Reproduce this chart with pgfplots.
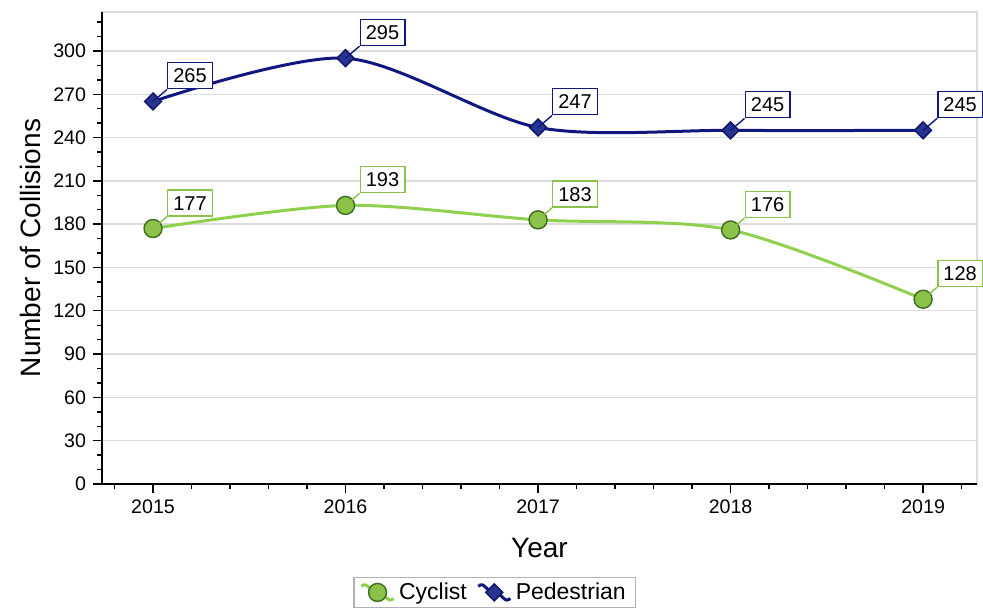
\documentclass[border=0pt]{standalone}
\usepackage{fontspec}
\setmainfont{Liberation Sans}
\usepackage{pgfplots}
\pgfplotsset{compat=1.18}

\definecolor{pedline}{HTML}{101880}
\definecolor{pedfill}{HTML}{26338F}
\definecolor{pededge}{HTML}{0D1466}
\definecolor{cycline}{HTML}{8FD14F}
\definecolor{cycfill}{HTML}{8BC34A}
\definecolor{cycedge}{HTML}{3D6B1E}
\definecolor{gridgray}{HTML}{DDDDDD}

% filled diamond with equal width and height
\pgfdeclareplotmark{bigdiamond}{%
  \pgfpathmoveto{\pgfqpoint{0pt}{\pgfplotmarksize}}%
  \pgfpathlineto{\pgfqpoint{\pgfplotmarksize}{0pt}}%
  \pgfpathlineto{\pgfqpoint{0pt}{-\pgfplotmarksize}}%
  \pgfpathlineto{\pgfqpoint{-\pgfplotmarksize}{0pt}}%
  \pgfpathclose
  \pgfusepathqfillstroke}

% boxed value label, up and right of the point, with a small leader line
\pgfplotsset{
  datalabel/.style={
    nodes near coords,
    point meta=y,
    every node near coord/.append style={
      anchor=south west, xshift=7pt, yshift=6pt,
      draw=#1, line width=0.7pt, fill=white, text=black,
      font=\fontsize{10}{12}\selectfont,
      inner xsep=2.8pt, inner ysep=2.9pt, text height=7.2pt, text depth=0pt,
      append after command={(\tikzlastnode.south west) edge[draw=#1, line width=0.7pt] ++(-7pt,-6pt)}
    }
  }
}

\begin{document}
\begin{tikzpicture}
\begin{axis}[
  scale only axis, width=437.5pt, height=236pt,
  xmin=2014.735, xmax=2019.28, ymin=0, ymax=327,
  xtick={2015,2016,2017,2018,2019},
  minor xtick={2014.8,2015.2,2015.4,2015.6,2015.8,2016.2,2016.4,2016.6,2016.8,2017.2,2017.4,2017.6,2017.8,2018.2,2018.4,2018.6,2018.8,2019.2},
  ytick={0,30,...,300},
  minor ytick={10,20,40,50,70,80,100,110,130,140,160,170,190,200,220,230,250,260,280,290,310,320},
  xtick pos=bottom, ytick pos=left, tick align=outside,
  major tick length=4.5pt, minor tick length=2.5pt,
  every tick/.style={black, line width=0.7pt},
  ymajorgrids, grid style={gridgray, line width=0.7pt},
  axis line style={gridgray, line width=0.7pt},
  /pgf/number format/assume math mode=true,
  /pgf/number format/1000 sep={},
  tick label style={font=\fontsize{9.8}{11}\selectfont},
  xlabel=Year, ylabel=Number of Collisions,
  label style={font=\fontsize{14}{16}\selectfont},
  xlabel style={at={(axis description cs:0.5,-0.136)}, anchor=center},
  ylabel style={at={(axis description cs:-0.082,0.5)}, anchor=center},
  clip=false,
  legend columns=-1,
  legend style={at={(axis description cs:0.449,-0.197)}, anchor=north,
    draw=gray!60, line width=0.6pt, font=\fontsize{11.5}{13}\selectfont,
    inner ysep=0.5pt,
    /tikz/every even column/.append style={column sep=3pt}},
  legend image code/.code={
    \draw[#1] (0pt,3pt) .. controls (3pt,6pt) and (4pt,0pt) .. (8pt,0pt)
      .. controls (12pt,0pt) and (13pt,-6pt) .. (16pt,-3pt);
    \draw[#1] plot coordinates {(8pt,0pt)};
  },
  after end axis/.code={
    \draw[black, line width=0.9pt] (rel axis cs:0,1) -- (rel axis cs:0,0) -- (rel axis cs:1,0);
  },
]
\addplot[cycline, line width=1.5pt, smooth, mark=*, mark size=4.5pt,
  mark options={fill=cycfill, draw=cycedge, line width=0.7pt},
  datalabel=cycfill] coordinates {
  (2015,177) (2016,193) (2017,183) (2018,176) (2019,128)
};
\addlegendentry{Cyclist}
\addplot[pedline, line width=1.5pt, smooth, mark=bigdiamond, mark size=4.25pt,
  mark options={fill=pedfill, draw=pededge, line width=0.7pt},
  datalabel=pedline] coordinates {
  (2015,265) (2016,295) (2017,247) (2018,245) (2019,245)
};
\addlegendentry{Pedestrian}
\end{axis}
\pgfresetboundingbox
\path[use as bounding box] (-51pt,-65.5pt) rectangle (440.5pt,242pt);
\end{tikzpicture}
\end{document}
